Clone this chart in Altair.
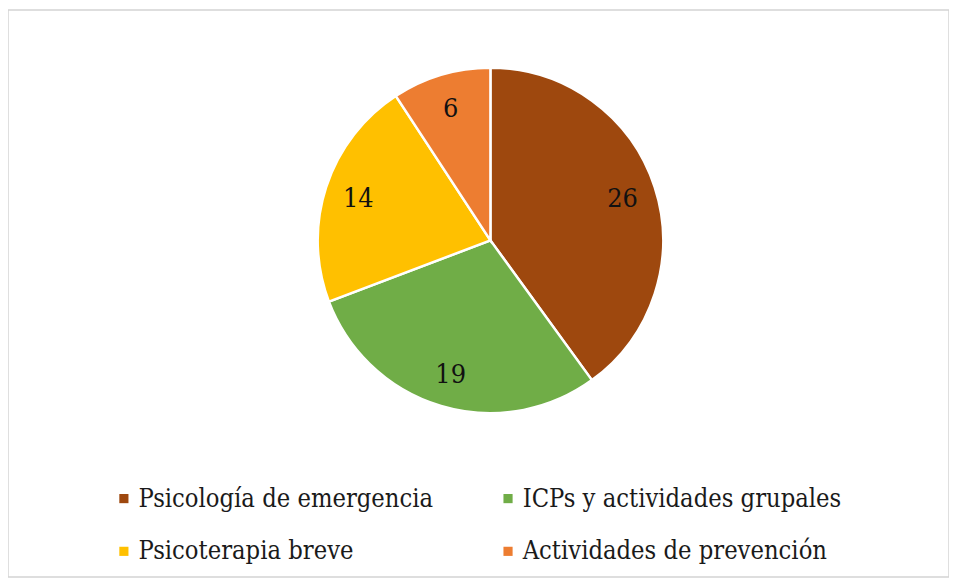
import altair as alt
import pandas as pd

categories = ["Psicología de emergencia", "ICPs y actividades grupales",
              "Psicoterapia breve", "Actividades de prevención"]
values = [26, 19, 14, 6]
colors = ["#9E480E", "#70AD47", "#FFC000", "#ED7D31"]

df = pd.DataFrame({"cat": categories, "val": values, "idx": list(range(len(values)))})

FONT = "DejaVu Serif Condensed"
CX, CY = 486, 232

base = alt.Chart(df).encode(
    theta=alt.Theta("val:Q", stack=True),
    order=alt.Order("idx:Q"),
)

pie = base.mark_arc(outerRadius=174, stroke="white", strokeWidth=2.5).encode(
    x=alt.value(CX), y=alt.value(CY),
    color=alt.Color(
        "cat:N",
        scale=alt.Scale(domain=categories, range=colors),
        sort=categories,
        legend=alt.Legend(
            title=None, orient="none", legendX=104, legendY=479,
            columns=2, direction="horizontal",
            symbolType="square", symbolSize=85, symbolStrokeWidth=0,
            labelFont=FONT, labelFontSize=25.5, labelColor="#1a1a1a",
            labelLimit=0, rowPadding=26.5, columnPadding=62, padding=0,
            symbolOffset=0, labelOffset=2,
        ),
    ),
)

labels = base.mark_text(radius=140, dy=2, font=FONT, fontSize=27, color="#111111").encode(
    x=alt.value(CX), y=alt.value(CY),
    text=alt.Text("val:Q"),
)

chart = (pie + labels).properties(
    width=948, height=571, padding=0, autosize=alt.AutoSizeParams(type="none"),
    background="white",
).configure_view(stroke="#d4d4d4", strokeWidth=1.5)

chart.save("out.html", embed_options={"renderer": "svg", "actions": False})
